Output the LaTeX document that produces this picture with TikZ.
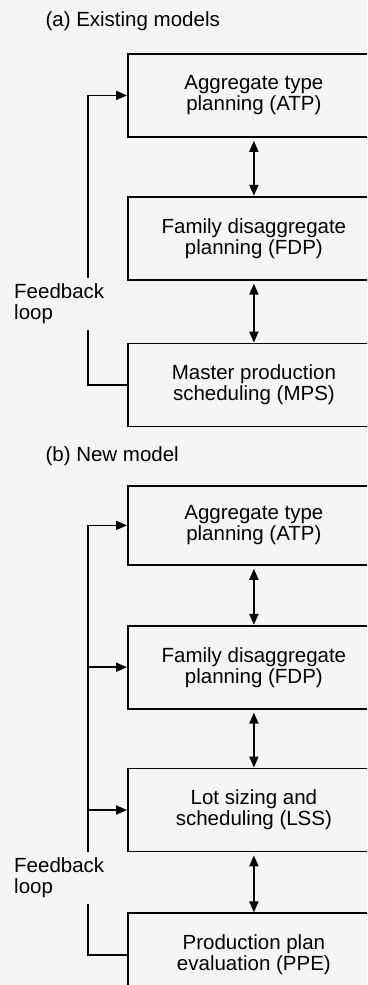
\documentclass[tikz,border=0pt]{standalone}
\usepackage{fontspec}
\setmainfont{Liberation Sans}
\usetikzlibrary{positioning, arrows.meta}

\begin{document}
\begin{tikzpicture}[x=1pt, y=1pt, every node/.style={font=\fontsize{20.5}{21}\selectfont}, >={Triangle[length=11pt,width=9pt]}]
      \tikzstyle{box}=[rectangle, draw, line width=1.8pt, minimum width=252pt, minimum height=83pt, align=center, inner sep=0pt]
      \tikzstyle{link}=[line width=1.8pt]
      \tikzstyle{fbtext}=[anchor=west, align=left, inner xsep=0pt, inner ysep=6pt]
      \clip (0,0) rectangle (367,-985);
      \fill[black!4] (0,0) rectangle (367,-985);
      % (a) existing models
      \node[anchor=base west] (capa) at (42,-27) {(a) Existing models};
      \node[box, anchor=north west] (atpa) at (127,-53) {Aggregate type\\planning (ATP)};
      \node[box, below=58pt of atpa] (fdpa) {Family disaggregate\\planning (FDP)};
      \node[box, below=62pt of fdpa] (mpsa) {Master production\\scheduling (MPS)};
      \draw[link, <->, shorten <=3pt] (atpa) -- (fdpa);
      \draw[link, <->, shorten <=3pt] (fdpa) -- (mpsa);
      \coordinate (spinea) at (88,0);
      \node[fbtext] (fba) at (14,-304) {Feedback\\loop};
      \draw[link, ->] (fba.north -| spinea) |- (atpa.west);
      \draw[link] (fba.south -| spinea) |- (mpsa.west);
      % (b) new model
      \node[anchor=base west] (capb) at (42,-461) {(b) New model};
      \node[box, anchor=north west, minimum height=79pt] (atpb) at (127,-485) {Aggregate type\\planning (ATP)};
      \node[box, below=59pt of atpb] (fdpb) {Family disaggregate\\planning (FDP)};
      \node[box, below=58pt of fdpb] (lssb) {Lot sizing and\\scheduling (LSS)};
      \node[box, below=60pt of lssb] (ppeb) {Production plan\\evaluation (PPE)};
      \draw[link, <->, shorten <=3pt] (atpb) -- (fdpb);
      \draw[link, <->, shorten <=3pt] (fdpb) -- (lssb);
      \draw[link, <->, shorten <=3pt] (lssb) -- (ppeb);
      \coordinate (spineb) at (88,0);
      \node[fbtext] (fbb) at (14,-878) {Feedback\\loop};
      \draw[link, ->] (fbb.north -| spineb) |- (atpb.west);
      \draw[link, ->] (spineb |- fdpb.west) -- (fdpb.west);
      \draw[link, ->] (spineb |- lssb.west) -- (lssb.west);
      \draw[link] (fbb.south -| spineb) |- (ppeb.west);
    \end{tikzpicture}
\end{document}
